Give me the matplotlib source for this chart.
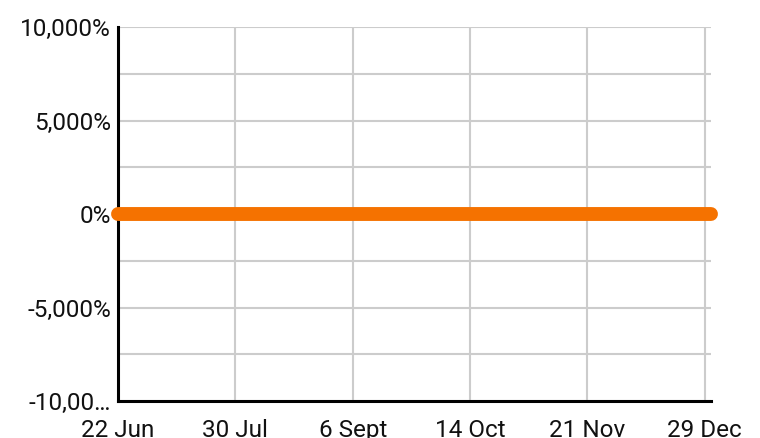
import matplotlib
matplotlib.use("Agg")
import matplotlib.pyplot as plt
import pandas as pd

plt.rcParams['font.family'] = ['Roboto', 'DejaVu Sans']

# Data
dates = pd.date_range("2023-06-22", "2023-12-31", freq="D")
values = [0.0] * len(dates)
x_tick_dates = pd.to_datetime(["2023-06-22", "2023-07-30", "2023-09-06",
                               "2023-10-14", "2023-11-21", "2023-12-29"])
x_tick_labels = ["22 Jun", "30 Jul", "6 Sept", "14 Oct", "21 Nov", "29 Dec"]
y_major = [-10000, -5000, 0, 5000, 10000]
y_labels = ["-10,00…", "-5,000%", "0%", "5,000%", "10,000%"]
y_minor = [-7500, -2500, 2500, 7500]

W, H = 760, 438
fig = plt.figure(figsize=(W / 100, H / 100), dpi=100)
ax = fig.add_axes([118 / W, 37 / H, (711 - 118) / W, (401 - 27) / H])

ax.plot(dates, values, color="#f57200", linewidth=10, solid_capstyle="round",
        clip_on=False, zorder=5)

ax.set_xlim(pd.Timestamp("2023-06-22"), pd.Timestamp("2023-12-31"))
ax.set_ylim(-10000, 10000)

ax.set_xticks(x_tick_dates)
ax.set_xticklabels(x_tick_labels)
ax.set_yticks(y_major)
ax.set_yticklabels(y_labels)
ax.set_yticks(y_minor, minor=True)

ax.grid(True, which="both", color="#cccccc", linewidth=1.5)
ax.set_axisbelow(True)
ax.tick_params(axis="both", which="both", length=0, labelsize=17.5, colors="#111111")
ax.tick_params(axis="y", pad=5)
ax.tick_params(axis="x", pad=13)

for s in ["top", "right"]:
    ax.spines[s].set_visible(False)
for s in ["left", "bottom"]:
    ax.spines[s].set_color("black")
    ax.spines[s].set_linewidth(2.2)

fig.savefig("out.png", dpi=100)
